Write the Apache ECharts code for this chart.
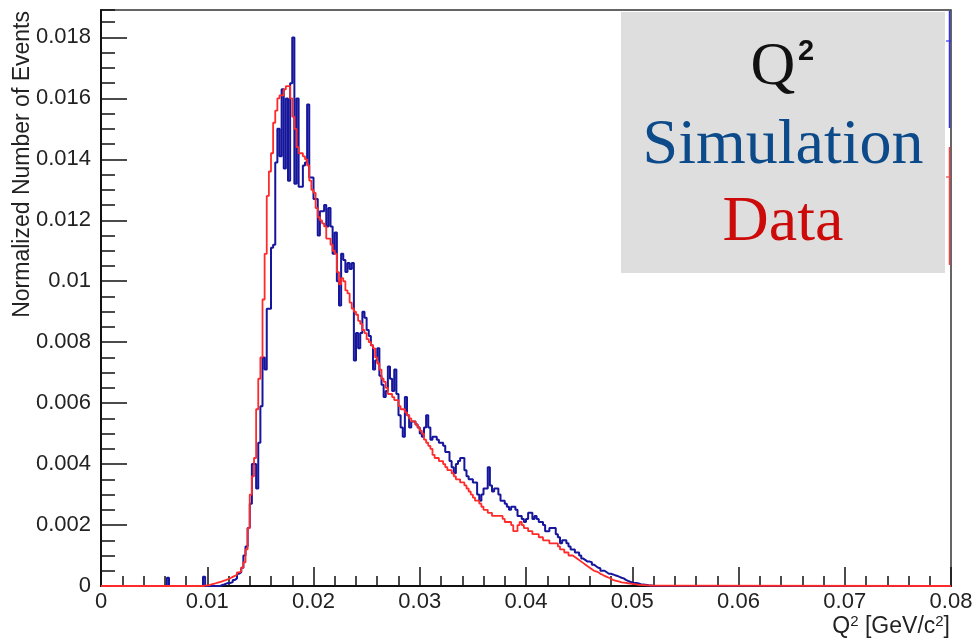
<!DOCTYPE html>
<html>
<head>
<meta charset="utf-8">
<script src="https://cdn.jsdelivr.net/npm/echarts@6/dist/echarts.min.js"></script>
<style>
  html, body { margin: 0; padding: 0; background: #ffffff; }
  #chart { width: 976px; height: 639px; }
</style>
</head>
<body>
<div id="chart"></div>
<script>
// ---- Data (histograms, bin width 0.0002 GeV^2/c^2, first bin starts at Q2 = 0.006) ----
const binStart = 0.006;
const binWidth = 0.0002;
const xMin = 0, xMax = 0.08;
const xTicks = [0, 0.01, 0.02, 0.03, 0.04, 0.05, 0.06, 0.07, 0.08];
const yTicks = [0, 0.002, 0.004, 0.006, 0.008, 0.01, 0.012, 0.014, 0.016, 0.018];

// Simulation (blue)
const simulation = [
  0,0.00027,0,0,0,0,0,0,0,0,
  0,0,0,0,0,0,0,0,0.0003,0,
  0,0,0,0,0,0,0.00003,0.00005,0.00008,0.0001,
  0.0001,0.00013,0.0002,0.00025,0.0004,0.00045,0.0006,0.001,0.0013,0.0019,
  0.0027,0.004,0.004,0.0032,0.0047,0.0059,0.0075,0.0071,0.0091,0.0091,
  0.0111,0.0112,0.0139,0.015,0.0141,0.0163,0.0137,0.016,0.0133,0.0165,
  0.018,0.0132,0.016,0.0131,0.0131,0.0138,0.0139,0.0158,0.0134,0.0134,
  0.0127,0.0127,0.0115,0.0123,0.0123,0.0125,0.0118,0.0124,0.0118,0.0109,
  0.0116,0.01,0.0092,0.0109,0.0107,0.0103,0.0106,0.0104,0.0106,0.0074,
  0.0083,0.0078,0.0083,0.009,0.0088,0.0084,0.0082,0.0079,0.0071,0.0074,
  0.0078,0.0069,0.0066,0.0062,0.0064,0.0072,0.0068,0.0064,0.0071,0.0063,
  0.0056,0.0052,0.0049,0.0062,0.0056,0.0052,0.0054,0.0054,0.0053,0.0052,
  0.005,0.0049,0.0052,0.0056,0.0052,0.0048,0.0049,0.0049,0.0048,0.0047,
  0.0047,0.0046,0.0044,0.0044,0.0041,0.0039,0.0037,0.004,0.0041,0.0042,
  0.0042,0.0038,0.0036,0.0035,0.0035,0.0034,0.0034,0.003,0.0028,0.003,
  0.0032,0.0032,0.0039,0.0033,0.0031,0.0032,0.0032,0.003,0.0028,0.0028,
  0.0027,0.0026,0.0025,0.0026,0.0026,0.0025,0.0023,0.0023,0.0022,0.0021,
  0.0022,0.0024,0.0024,0.0022,0.0023,0.0022,0.0021,0.0021,0.002,0.0018,
  0.0018,0.0019,0.0019,0.0019,0.0017,0.0016,0.0014,0.0015,0.0015,0.0014,
  0.0013,0.0012,0.0012,0.0011,0.0011,0.001,0.0009,0.00085,0.0008,0.0008,
  0.00078,0.0007,0.00065,0.0006,0.00058,0.0005,0.0005,0.00045,0.0004,0.0004,
  0.00038,0.00035,0.00033,0.0003,0.00027,0.00025,0.0002,0.00017,0.00014,0.00012,
  0.0001,0.0001,0.00008,0.00006,0.00005,0.00004,0.00003,0.00002,0.00002,0.00001
];

// Data (red)
const dataHist = [
  0,0,0,0,0,0,0,0,0,0,
  0,0,0,0,0,0,0,0,0.00001,0.00002,
  0.00003,0.00005,0.00007,0.00009,0.00011,0.00013,0.00015,0.00018,0.0002,0.00023,
  0.00026,0.0003,0.00033,0.00038,0.00045,0.00047,0.0006,0.00078,0.0012,0.0019,
  0.003,0.0036,0.0042,0.0058,0.0068,0.0075,0.0094,0.0109,0.0128,0.0136,
  0.0142,0.0152,0.0156,0.016,0.0161,0.0161,0.0163,0.0164,0.0164,0.016,
  0.0154,0.015,0.0144,0.0142,0.0142,0.0141,0.014,0.0138,0.0133,0.013,
  0.0129,0.0124,0.0121,0.012,0.0119,0.0118,0.0114,0.0114,0.0112,0.011,
  0.0109,0.0103,0.0099,0.0101,0.01,0.0097,0.0096,0.0093,0.0091,0.009,
  0.0089,0.0087,0.0086,0.0084,0.0083,0.0081,0.008,0.0079,0.0078,0.0075,
  0.0073,0.0071,0.0068,0.0067,0.0065,0.0063,0.0063,0.0062,0.0061,0.0061,
  0.0059,0.0058,0.0058,0.0057,0.0056,0.0055,0.0054,0.0054,0.0053,0.0052,
  0.0051,0.005,0.0048,0.0047,0.0046,0.0045,0.0043,0.0042,0.0042,0.0041,
  0.0041,0.004,0.0039,0.0038,0.0038,0.0037,0.0036,0.0035,0.0035,0.0034,
  0.0034,0.0033,0.0032,0.0031,0.003,0.0029,0.0028,0.0028,0.0027,0.0026,
  0.0025,0.0025,0.0024,0.0024,0.0023,0.0023,0.0023,0.0023,0.0023,0.0022,
  0.0021,0.0021,0.0021,0.002,0.0018,0.0018,0.002,0.0021,0.002,0.0019,
  0.0019,0.0018,0.0018,0.0017,0.0017,0.0017,0.0016,0.0016,0.0015,0.0015,
  0.0015,0.0014,0.0014,0.0014,0.0014,0.0013,0.0012,0.0012,0.0011,0.0011,
  0.001,0.001,0.00095,0.0009,0.00085,0.0008,0.00075,0.0007,0.00065,0.0006,
  0.00055,0.0005,0.00048,0.00045,0.0004,0.00037,0.00033,0.0003,0.00027,0.00024,
  0.0002,0.00018,0.00016,0.00014,0.00012,0.00011,0.0001,0.00009,0.00008,0.00007,
  0.00006,0.00005,0.00004,0.00004,0.00003,0.00003,0.00002,0.00002,0.00001,0.00001
];

const legendTitle = 'Q';
const legendSim = 'Simulation';
const legendData = 'Data';
const yAxisTitle = 'Normalized Number of Events';

// build step-histogram points (left bin edges; step 'end')
function histPoints(vals) {
  const pts = [[xMin, 0]];
  for (let i = 0; i < vals.length; i++) {
    pts.push([+(binStart + i * binWidth).toFixed(6), vals[i]]);
  }
  pts.push([+(binStart + vals.length * binWidth).toFixed(6), 0]);
  pts.push([xMax, 0]);
  return pts;
}

const chart = echarts.init(document.getElementById('chart'), null, { renderer: 'canvas' });
const yMax = 0.0189;
const font = 'Liberation Sans, Arial, Helvetica, sans-serif';

chart.setOption({
  animation: false,
  backgroundColor: '#ffffff',
  grid: { left: 101, right: 25, top: 10, bottom: 53, show: true, borderColor: '#333', borderWidth: 1.5, backgroundColor: 'transparent' },
  xAxis: [{
    type: 'value', min: xMin, max: xMax, interval: 0.01,
    axisLine: { show: true, onZero: false, lineStyle: { color: '#111', width: 2 } },
    axisTick: { show: true, inside: true, length: 19, lineStyle: { color: '#111', width: 1.5 } },
    minorTick: { show: true, splitNumber: 5, length: 10, lineStyle: { color: '#111', width: 1.5 } },
    splitLine: { show: false },
    axisLabel: { fontSize: 22, color: '#222', fontFamily: font, margin: 5,
      formatter: v => { const t = xTicks.find(k => Math.abs(k - v) < 1e-9); return t === undefined ? '' : String(t); } }
  }],
  yAxis: [{
    type: 'value', min: 0, max: yMax, interval: 0.002,
    axisLine: { show: true, onZero: false, lineStyle: { color: '#111', width: 2 } },
    axisTick: { show: true, inside: true, length: 26, lineStyle: { color: '#111', width: 1.5 } },
    splitLine: { show: false },
    axisLabel: { fontSize: 22, color: '#222', fontFamily: font, margin: 10, showMaxLabel: false,
      formatter: v => { const t = yTicks.find(k => Math.abs(k - v) < 1e-9); return t === undefined ? '' : String(t); } }
  }, {
    type: 'value', min: 0, max: yMax, interval: 0.0005, position: 'left', offset: 0,
    axisLine: { show: false },
    axisTick: { show: true, inside: true, length: 14, lineStyle: { color: '#111', width: 1.5 } },
    splitLine: { show: false },
    axisLabel: { show: false }
  }],
  series: [{
    name: legendSim, type: 'line', step: 'end', showSymbol: false, symbol: 'none',
    data: histPoints(simulation), yAxisIndex: 0,
    lineStyle: { color: '#16169c', width: 2 }, z: 3
  }, {
    name: legendData, type: 'line', step: 'end', showSymbol: false, symbol: 'none',
    data: histPoints(dataHist), yAxisIndex: 0,
    lineStyle: { color: '#ff2a2a', width: 1.8 }, z: 4
  }],
  graphic: [
    { type: 'text', x: 23, y: 11, rotation: Math.PI / 2,
      style: { text: yAxisTitle, fontSize: 23, fontFamily: font, fill: '#222', align: 'right', verticalAlign: 'middle' } },
    { type: 'text', x: 950, y: 627,
      style: { text: 'Q{s|2} [GeV/c{s|2}]', fontSize: 23, fontFamily: font, fill: '#222', align: 'right', verticalAlign: 'middle',
        rich: { s: { fontSize: 15, fontFamily: font, fill: '#222', verticalAlign: 'top', padding: [0, 0, 10, 0] } } } },
    { type: 'line', shape: { x1: 949.5, y1: 11, x2: 949.5, y2: 128 }, style: { stroke: '#3333ee', lineWidth: 1.5 }, z: 50 },
    { type: 'line', shape: { x1: 946, y1: 41, x2: 951, y2: 41 }, style: { stroke: '#3333ee', lineWidth: 1.2 }, z: 50 },
    { type: 'line', shape: { x1: 949.5, y1: 147, x2: 949.5, y2: 265 }, style: { stroke: '#ee4444', lineWidth: 1.5 }, z: 50 },
    { type: 'line', shape: { x1: 946, y1: 177, x2: 951, y2: 177 }, style: { stroke: '#ee4444', lineWidth: 1.2 }, z: 50 },
    { type: 'rect', shape: { x: 621, y: 12, width: 324, height: 261 }, style: { fill: '#dedede' }, z: 60 },
    { type: 'text', x: 773, y: 68, z: 61,
      style: { text: legendTitle, fontSize: 62, fontFamily: 'Liberation Serif, serif', fill: '#111', align: 'center', verticalAlign: 'middle' } },
    { type: 'text', x: 806, y: 52, z: 61,
      style: { text: '2', fontSize: 29, fontWeight: 'bold', fontFamily: font, fill: '#111', align: 'center', verticalAlign: 'middle' } },
    { type: 'text', x: 783, y: 146, z: 61,
      style: { text: legendSim, fontSize: 64, fontFamily: 'Liberation Serif, serif', fill: '#0d4a8a', align: 'center', verticalAlign: 'middle' } },
    { type: 'text', x: 783, y: 223, z: 61,
      style: { text: legendData, fontSize: 64, fontFamily: 'Liberation Serif, serif', fill: '#cc0a0a', align: 'center', verticalAlign: 'middle' } }
  ]
});
</script>
</body>
</html>
